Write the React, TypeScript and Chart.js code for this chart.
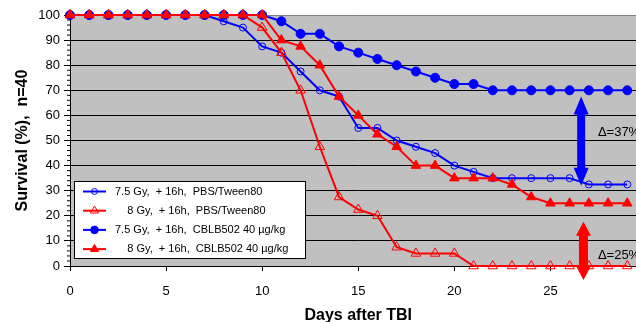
import React, { useEffect, useRef } from 'react';
import { Chart, registerables } from 'chart.js';
import { drawPoint } from 'chart.js/helpers';

Chart.register(...registerables);

// ---- data ----
const days = [0, 1, 2, 3, 4, 5, 6, 7, 8, 9, 10, 11, 12, 13, 14, 15, 16, 17, 18, 19, 20, 21, 22, 23, 24, 25, 26, 27, 28, 29];
const pbs75 = [100, 100, 100, 100, 100, 100, 100, 100, 97.5, 95, 87.5, 85, 77.5, 70, 67.5, 55, 55, 50, 47.5, 45, 40, 37.5, 35, 35, 35, 35, 35, 32.5, 32.5, 32.5];
const pbs8 = [100, 100, 100, 100, 100, 100, 100, 100, 100, 100, 95, 85, 70, 47.5, 27.5, 22.5, 20, 7.5, 5, 5, 5, 0, 0, 0, 0, 0, 0, 0, 0, 0];
const cblb75 = [100, 100, 100, 100, 100, 100, 100, 100, 100, 100, 100, 97.5, 92.5, 92.5, 87.5, 85, 82.5, 80, 77.5, 75, 72.5, 72.5, 70, 70, 70, 70, 70, 70, 70, 70];
const cblb8 = [100, 100, 100, 100, 100, 100, 100, 100, 100, 100, 100, 90, 87.5, 80, 67.5, 60, 52.5, 47.5, 40, 40, 35, 35, 35, 32.5, 27.5, 25, 25, 25, 25, 25];

const seriesLabels = [
  '7.5 Gy,  + 16h,  PBS/Tween80',
  '    8 Gy,  + 16h,  PBS/Tween80',
  '7.5 Gy,  + 16h,  CBLB502 40 \u00B5g/kg',
  '    8 Gy,  + 16h,  CBLB502 40 \u00B5g/kg',
];
const xTicks = [0, 5, 10, 15, 20, 25, 30];
const yTicks = [0, 10, 20, 30, 40, 50, 60, 70, 80, 90, 100];

// annotations (data coordinates)
const deltaLabels = ['\u0394=37%', '\u0394=25%'];
const deltaLabelX = [27.47, 27.47];
const deltaLabelY = [53.1, 4.4];
const arrowX = [26.6, 26.72];
const arrowTop = [67.5, 17.6];
const arrowBottom = [32, -5.6];

const BLUE = '#0000FF';
const RED = '#FF0000';
const FONT = '"Liberation Sans", Arial, sans-serif';

const arrowStyles = [
  { color: BLUE, shaft: 8, headW: 15, headL: 18 },
  { color: RED, shaft: 9, headW: 15, headL: 14 },
];

const bgPlugin = {
  id: 'bg',
  beforeDraw(chart: any) {
    const { ctx, chartArea } = chart;
    ctx.save();
    ctx.fillStyle = '#C0C0C0';
    ctx.fillRect(chartArea.left, chartArea.top, chartArea.right - chartArea.left, chartArea.bottom - chartArea.top);
    ctx.restore();
  },
};

const minorTicksPlugin = {
  id: 'minorTicks',
  afterDraw(chart: any) {
    const { ctx, chartArea } = chart;
    const y = chart.scales.y;
    ctx.save();
    ctx.strokeStyle = '#000';
    ctx.lineWidth = 1;
    for (let v = 0; v <= 100; v += 2) {
      if (v % 10 === 0) continue;
      const py = y.getPixelForValue(v);
      ctx.beginPath();
      ctx.moveTo(chartArea.left - 3, py);
      ctx.lineTo(chartArea.left, py);
      ctx.stroke();
    }
    ctx.restore();
  },
};

const arrowsPlugin = {
  id: 'arrows',
  afterDatasetsDraw(chart: any) {
    const { ctx } = chart;
    const xs = chart.scales.x;
    const ys = chart.scales.y;
    ctx.save();
    arrowX.forEach((ax, i) => {
      const st = arrowStyles[i];
      const cx = xs.getPixelForValue(ax);
      const t = ys.getPixelForValue(arrowTop[i]);
      const b = ys.getPixelForValue(arrowBottom[i]);
      const hw = st.headW / 2;
      const sw = st.shaft / 2;
      ctx.fillStyle = st.color;
      ctx.beginPath();
      ctx.moveTo(cx, t);
      ctx.lineTo(cx + hw, t + st.headL);
      ctx.lineTo(cx + sw, t + st.headL);
      ctx.lineTo(cx + sw, b - st.headL);
      ctx.lineTo(cx + hw, b - st.headL);
      ctx.lineTo(cx, b);
      ctx.lineTo(cx - hw, b - st.headL);
      ctx.lineTo(cx - sw, b - st.headL);
      ctx.lineTo(cx - sw, t + st.headL);
      ctx.lineTo(cx - hw, t + st.headL);
      ctx.closePath();
      ctx.fill();
    });
    ctx.fillStyle = '#000';
    ctx.font = `13px ${FONT}`;
    ctx.textAlign = 'left';
    ctx.textBaseline = 'middle';
    deltaLabels.forEach((txt, i) => {
      ctx.fillText(txt, xs.getPixelForValue(deltaLabelX[i]), ys.getPixelForValue(deltaLabelY[i]));
    });
    ctx.restore();
  },
};

const legendPlugin = {
  id: 'customLegend',
  afterDraw(chart: any) {
    const { ctx, chartArea } = chart;
    const x0 = chartArea.left + 4.5;
    const y0 = 181.5;
    const w = 231;
    const h = 77;
    ctx.save();
    ctx.fillStyle = '#FFFFFF';
    ctx.fillRect(x0, y0, w, h);
    ctx.strokeStyle = '#000';
    ctx.lineWidth = 1;
    ctx.strokeRect(x0, y0, w, h);
    chart.data.datasets.forEach((ds: any, i: number) => {
      const ry = y0 + 10 + i * 19.2;
      ctx.strokeStyle = ds.borderColor;
      ctx.lineWidth = 2;
      ctx.beginPath();
      ctx.moveTo(x0 + 8.5, ry);
      ctx.lineTo(x0 + 31.5, ry);
      ctx.stroke();
      ctx.fillStyle = ds.pointBackgroundColor;
      ctx.strokeStyle = ds.pointBorderColor;
      ctx.lineWidth = ds.pointBorderWidth;
      drawPoint(ctx, { pointStyle: ds.pointStyle, rotation: 0, radius: ds.pointRadius * 0.85, borderWidth: ds.pointBorderWidth }, x0 + 20, ry);
      ctx.fillStyle = '#000';
      ctx.font = `11px ${FONT}`;
      ctx.textAlign = 'left';
      ctx.textBaseline = 'middle';
      ctx.fillText(ds.label, x0 + 40.5, ry);
    });
    ctx.restore();
  },
};

function makeSeries(label: string, values: number[], color: string, style: string, filled: boolean, radius: number, order: number) {
  return {
    label,
    data: days.map((d, i) => ({ x: d, y: values[i] })),
    borderColor: color,
    borderWidth: 2,
    backgroundColor: color,
    pointStyle: style,
    pointRadius: radius,
    pointBorderWidth: 1,
    pointBorderColor: color,
    pointBackgroundColor: filled ? color : 'rgba(0,0,0,0)',
    tension: 0,
    fill: false,
    clip: false,
    order,
  };
}

export default function App() {
  const ref = useRef<HTMLCanvasElement>(null);
  useEffect(() => {
    if (!ref.current) return;
    const chart = new Chart(ref.current, {
      type: 'line',
      data: {
        datasets: [
          makeSeries(seriesLabels[0], pbs75, BLUE, 'circle', false, 3.5, 3),
          makeSeries(seriesLabels[1], pbs8, RED, 'triangle', false, 5.5, 2),
          makeSeries(seriesLabels[2], cblb75, BLUE, 'circle', true, 4.5, 1),
          makeSeries(seriesLabels[3], cblb8, RED, 'triangle', true, 5.5, 0),
        ] as any,
      },
      options: {
        animation: false,
        responsive: false,
        layout: { padding: { top: 15, right: 13.5, left: 0, bottom: 0 } },
        plugins: {
          legend: { display: false },
          tooltip: { enabled: false },
        },
        scales: {
          x: {
            type: 'linear',
            min: 0,
            max: 30,
            afterFit: (s: any) => { s.height = 56; s.paddingLeft = 0; s.paddingRight = 0; },
            afterBuildTicks: (s: any) => { s.ticks = xTicks.map((v) => ({ value: v })); },
            ticks: { color: '#000', font: { family: FONT, size: 13 }, padding: 13, maxRotation: 0, autoSkip: false },
            grid: { drawOnChartArea: false, drawTicks: true, tickLength: 5, tickColor: '#000', color: '#000' },
            border: { color: '#000', width: 1 },
            title: { display: true, text: 'Days after TBI', color: '#000', font: { family: FONT, size: 16, weight: 'bold', lineHeight: 0.75 }, padding: { top: 0, bottom: 0 } },
          },
          y: {
            min: 0,
            max: 100,
            afterFit: (s: any) => { s.width = 70; s.paddingTop = 0; s.paddingBottom = 0; },
            afterBuildTicks: (s: any) => { s.ticks = yTicks.map((v) => ({ value: v })); },
            ticks: { color: '#000', font: { family: FONT, size: 13 }, padding: 4 },
            grid: {
              color: (c: any) => (c.tick && c.tick.value === 100 ? '#808080' : '#000'),
              tickColor: '#000',
              tickLength: 6,
              lineWidth: 1,
            },
            border: { color: '#000', width: 1 },
            title: { display: true, text: 'Survival (%),  n=40', color: '#000', font: { family: FONT, size: 16, weight: 'bold' }, padding: { top: 13, bottom: 0 } },
          },
        },
      } as any,
      plugins: [bgPlugin, minorTicksPlugin, arrowsPlugin, legendPlugin],
    });
    return () => chart.destroy();
  }, []);
  return (
    <div style={{ position: 'fixed', left: 0, top: 0, width: 636, height: 322, overflow: 'hidden', background: '#fff' }}>
      <canvas ref={ref} width={660} height={322} style={{ display: 'block' }} />
    </div>
  );
}
